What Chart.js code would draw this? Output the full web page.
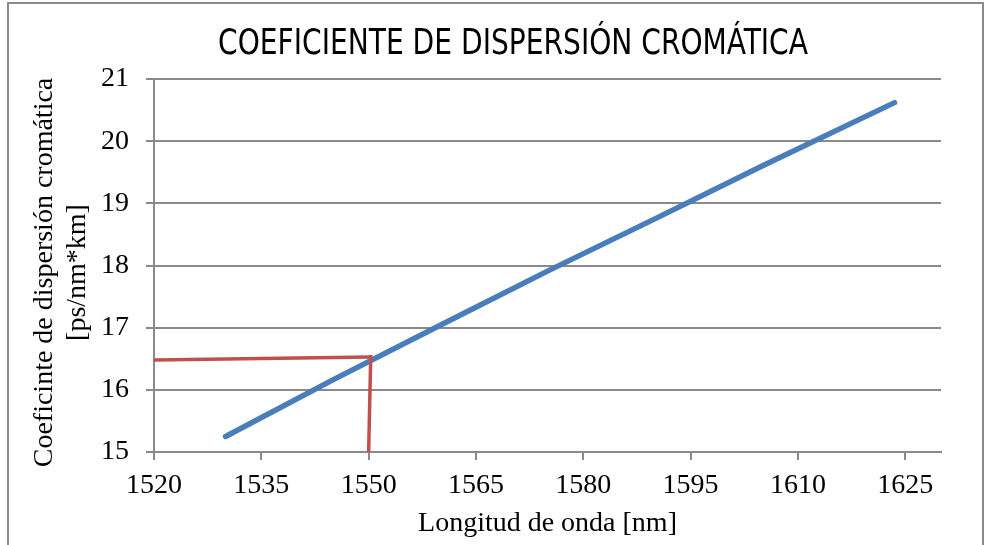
<!DOCTYPE html>
<html>
<head>
<meta charset="utf-8">
<script src="https://cdn.jsdelivr.net/npm/chart.js@4/dist/chart.umd.min.js"></script>
<style>
  html, body { margin: 0; padding: 0; background: #ffffff; }
  #wrap { width: 985px; height: 545px; position: relative; }
</style>
</head>
<body>
<div id="wrap"><canvas id="c" width="985" height="545"></canvas></div>
<script>
// ---- data ----
const chartTitle = 'COEFICIENTE DE DISPERSIÓN CROMÁTICA';
const xAxisTitle = 'Longitud de onda [nm]';
const yAxisTitle = ['Coeficinte de dispersión cromática  ', '[ps/nm*km]  '];

const wavelength = [1530, 1545, 1560, 1575, 1590, 1605, 1623.5];
const dispersion = [15.25, 16.16, 17.04, 17.91, 18.75, 19.60, 20.62];

const markerHX = [1520, 1550.2];
const markerHY = [16.48, 16.53];
const markerVX = [1550.3, 1550];
const markerVY = [16.56, 15];

const xTicks = [1520, 1535, 1550, 1565, 1580, 1595, 1610, 1625];
const yTicks = [15, 16, 17, 18, 19, 20, 21];
const xRange = [1520, 1630];
const yRange = [15, 21];

const toPts = (xs, ys) => xs.map((x, i) => ({ x: x, y: ys[i] }));

const GRID = '#8a8a8a';
const SERIF = '"Liberation Serif", "Times New Roman", serif';

const framePlugin = {
  id: 'frame',
  beforeDraw(chart) {
    const ctx = chart.ctx;
    ctx.save();
    ctx.fillStyle = '#ffffff';
    ctx.fillRect(0, 0, chart.width, chart.height);
    ctx.strokeStyle = '#8a8a8a';
    ctx.lineWidth = 2;
    ctx.strokeRect(8, 3, 975, 560);
    ctx.restore();
  },
  afterDraw(chart) {
    const ctx = chart.ctx;
    ctx.save();
    ctx.fillStyle = '#000000';
    ctx.font = '36px "DejaVu Sans Condensed", "Liberation Sans Narrow", sans-serif';
    ctx.textAlign = 'center';
    ctx.textBaseline = 'middle';
    const w = ctx.measureText(chartTitle).width;
    const sx = Math.min(1, 590 / w);
    ctx.translate(513, 45);
    ctx.scale(sx, 1);
    ctx.fillText(chartTitle, 0, 0);
    ctx.restore();
  }
};

new Chart(document.getElementById('c'), {
  type: 'line',
  data: {
    datasets: [
      {
        label: 'D',
        data: toPts(wavelength, dispersion),
        borderColor: '#4a7ebb',
        borderWidth: 5.5,
        borderCapStyle: 'round',
        pointRadius: 0,
        tension: 0,
        order: 2
      },
      {
        label: 'h',
        data: toPts(markerHX, markerHY),
        borderColor: '#c0504d',
        borderWidth: 3.5,
        pointRadius: 0,
        tension: 0,
        order: 1
      },
      {
        label: 'v',
        data: toPts(markerVX, markerVY),
        borderColor: '#c0504d',
        borderWidth: 3.5,
        pointRadius: 0,
        tension: 0,
        order: 1
      }
    ]
  },
  options: {
    responsive: false,
    animation: false,
    events: [],
    layout: { padding: { left: 0, right: 44, top: 79, bottom: 5 } },
    plugins: {
      legend: { display: false },
      title: { display: false },
      tooltip: { enabled: false }
    },
    scales: {
      x: {
        type: 'linear',
        min: xRange[0],
        max: xRange[1],
        afterBuildTicks(scale) { scale.ticks = xTicks.map(v => ({ value: v })); },
        afterFit(scale) { scale.height = 545 - 452 - 5; },
        grid: { drawOnChartArea: false, drawTicks: true, tickLength: 8, color: GRID, lineWidth: 2 },
        border: { display: true, color: GRID, width: 2 },
        ticks: { color: '#000', padding: 9, maxRotation: 0, autoSkip: false, callback: v => String(v), font: { family: SERIF, size: 28 } },
        title: { display: true, text: xAxisTitle, color: '#000', padding: { top: 0, bottom: 0 }, font: { family: SERIF, size: 28, lineHeight: 1.2 } }
      },
      y: {
        type: 'linear',
        min: yRange[0],
        max: yRange[1],
        afterBuildTicks(scale) { scale.ticks = yTicks.map(v => ({ value: v })); },
        afterFit(scale) { scale.width = 154; },
        grid: { drawOnChartArea: true, drawTicks: true, tickLength: 8, color: GRID, lineWidth: 2 },
        border: { display: true, color: GRID, width: 2 },
        ticks: { color: '#000', padding: 17, callback: v => String(v), font: { family: SERIF, size: 28 } },
        title: { display: true, text: yAxisTitle, color: '#000', padding: { top: 29, bottom: 0 }, font: { family: SERIF, size: 28, lineHeight: 1.15 } }
      }
    }
  },
  plugins: [framePlugin]
});
</script>
</body>
</html>
